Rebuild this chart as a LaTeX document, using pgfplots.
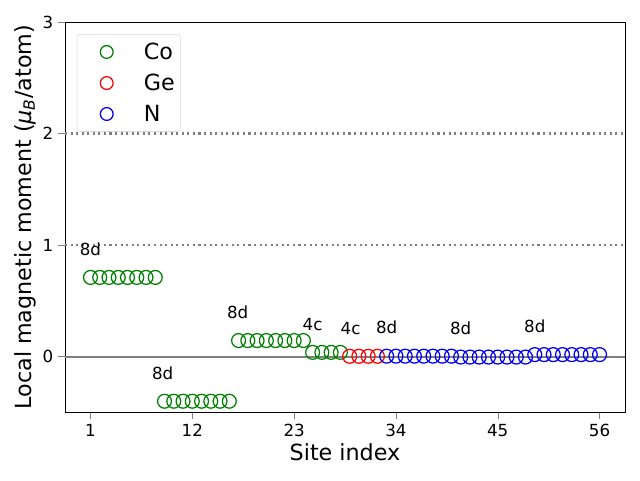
\documentclass[border=0pt]{standalone}
\usepackage{pgfplots}
\pgfplotsset{compat=1.18}
\usepackage{fontspec}
\setmainfont{DejaVu Sans}
\definecolor{mplgreen}{RGB}{0,128,0}
\begin{document}
\begin{tikzpicture}
\begin{axis}[
    scale only axis,
    width=403pt, height=281pt,
    xmin=-1.75, xmax=58.75,
    ymin=-0.5, ymax=3,
    xtick={1,12,23,34,45,56},
    ytick={0,1,2,3},
    /pgf/number format/assume math mode=true,
    tick label style={font=\fontsize{12}{14}\selectfont},
    tick align=outside,
    xtick pos=bottom, ytick pos=left,
    major tick length=4.9pt,
    xlabel={Site index},
    ylabel={Local magnetic moment (\textit{μ}\textsubscript{\textit{B}}/atom)},
    label style={font=\fontsize{16}{19}\selectfont},
    xlabel style={yshift=2pt},
    ylabel style={yshift=-2pt},
    legend style={at={(0.021,0.969)}, anchor=north west,
        draw=black!15, rounded corners=2pt,
        font=\fontsize{16}{19}\selectfont,
        row sep=5pt, inner xsep=2pt, inner ysep=4pt},
    legend cell align=left,
    legend image code/.code={\path[draw=none] (0cm,0cm) -- (1.55cm,0cm);
        \draw[#1, mark size=4.6pt] plot coordinates {(0.68cm,0cm)};},
    clip=false,
]
\addplot[forget plot, color=black!50, dash pattern=on 1.5pt off 2.5pt, line width=1.5pt] coordinates {(-1.75,1) (58.75,1)};
\addplot[forget plot, color=black!50, dash pattern=on 1.5pt off 2.5pt, line width=1.5pt] coordinates {(-1.75,2) (58.75,2)};
\addplot[forget plot, color=black!50, line width=1.5pt] coordinates {(-1.75,0) (58.75,0)};
\addplot[only marks, mark=o, mark size=5pt, mplgreen, line width=0.9pt] coordinates {
(1,0.71) (2,0.71) (3,0.71) (4,0.71) (5,0.71) (6,0.71) (7,0.71) (8,0.71)
(9,-0.40) (10,-0.40) (11,-0.40) (12,-0.40) (13,-0.40) (14,-0.40) (15,-0.40) (16,-0.40)
(17,0.144) (18,0.144) (19,0.144) (20,0.144) (21,0.144) (22,0.144) (23,0.144) (24,0.144)
(25,0.038) (26,0.038) (27,0.038) (28,0.038)
};
\addlegendentry{Co}
\addplot[only marks, mark=o, mark size=5pt, red, line width=0.9pt] coordinates {
(29,0.003) (30,0.003) (31,0.003) (32,0.003)
};
\addlegendentry{Ge}
\addplot[only marks, mark=o, mark size=5pt, blue, line width=0.9pt] coordinates {
(33,0.004) (34,0.004) (35,0.004) (36,0.004) (37,0.004) (38,0.004) (39,0.004) (40,0.004)
(41,-0.004) (42,-0.004) (43,-0.004) (44,-0.004) (45,-0.004) (46,-0.004) (47,-0.004) (48,-0.004)
(49,0.018) (50,0.018) (51,0.018) (52,0.018) (53,0.018) (54,0.018) (55,0.018) (56,0.018)
};
\addlegendentry{N}
\node[font=\fontsize{12}{14}\selectfont] at (axis cs:1,0.96) {8d};
\node[font=\fontsize{12}{14}\selectfont] at (axis cs:8.8,-0.15) {8d};
\node[font=\fontsize{12}{14}\selectfont] at (axis cs:16.9,0.40) {8d};
\node[font=\fontsize{12}{14}\selectfont] at (axis cs:25,0.29) {4c};
\node[font=\fontsize{12}{14}\selectfont] at (axis cs:29.1,0.25) {4c};
\node[font=\fontsize{12}{14}\selectfont] at (axis cs:33,0.26) {8d};
\node[font=\fontsize{12}{14}\selectfont] at (axis cs:41,0.25) {8d};
\node[font=\fontsize{12}{14}\selectfont] at (axis cs:49,0.27) {8d};
\end{axis}
\path ([xshift=-46.8pt,yshift=-49pt]current axis.south west) rectangle ([xshift=10.8pt,yshift=15.8pt]current axis.north east);
\end{tikzpicture}
\end{document}
